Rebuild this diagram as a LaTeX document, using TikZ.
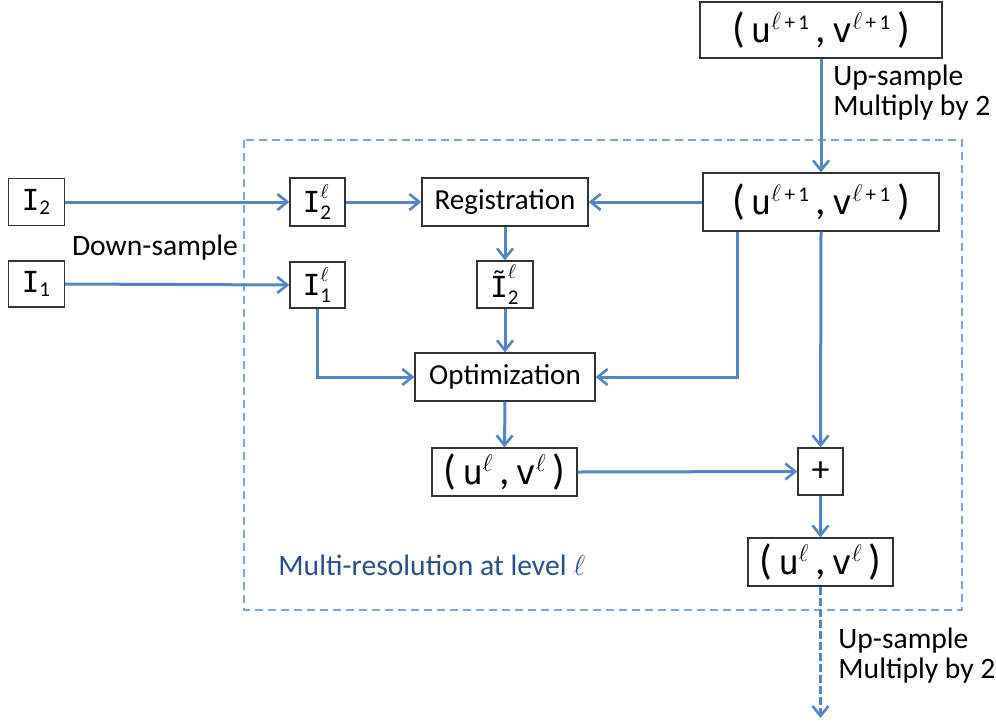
\documentclass[tikz,border=0pt]{standalone}
\usepackage{fontspec}
\setmainfont{Carlito}
\newfontfamily\monof{DejaVu Sans Mono}
\usetikzlibrary{arrows.meta}
\definecolor{arrblue}{RGB}{84,134,196}
\definecolor{dashblue}{RGB}{125,166,214}
\definecolor{lblblue}{RGB}{44,79,138}
\newcommand{\sst}[1]{\mbox{\fontsize{10.5}{10}\selectfont #1}}
\newcommand{\bp}[1]{{\fontsize{21}{21}\selectfont #1}}
\newcommand{\mI}{\mbox{\monof I}}
\newcommand{\mIt}{\mbox{\monof \~{I}}}
\newcommand{\uvone}{\bp{(}\,{\monof u}$^{\ell\sst{\,+\,1}}$\,\bp{,}\,{\monof v}$^{\ell\sst{\,+\,1}}$\,\bp{)}}
\newcommand{\uvl}{\bp{(}\,{\monof u}$^{\ell}$\,\bp{,}\,{\monof v}$^{\ell}$\,\bp{)}}
\begin{document}
\begin{tikzpicture}[x=0.5pt,y=-0.5pt,
  box/.style={draw=black!80,line width=0.6pt,inner sep=0pt,align=center,font=\fontsize{14.5}{16}\selectfont},
  uvbox/.style={box,font=\fontsize{17}{18}\selectfont},
  arr/.style={draw=arrblue,line width=1.5pt,-{Straight Barb[length=5pt,width=8pt,line width=1.3pt]}},
  lbl/.style={font=\fontsize{14.8}{14}\selectfont,align=left,inner sep=0pt}]
\useasboundingbox (0,0) rectangle (996,724);
% dashed frame
\draw[dashblue,line width=0.8pt,dash pattern=on 4pt off 2.5pt] (244,140) rectangle (962,610);
% nodes
\node[uvbox,minimum width=121pt,minimum height=28pt] (top) at (821,30) {\uvone};
\node[uvbox,minimum width=118pt,minimum height=29pt] (sec) at (821,202) {\uvone};
\node[box,minimum width=28pt,minimum height=23.5pt] (i2) at (36.5,202) {$\mI_{\sst{2}}$};
\node[box,minimum width=28pt,minimum height=23pt] (i1) at (36.5,284) {$\mI_{\sst{1}}$};
\node[box,minimum width=27.5pt,minimum height=24pt] (i2l) at (317.5,202) {$\mI^{\ell}_{\sst{2}}$};
\node[box,minimum width=27.5pt,minimum height=23pt] (i1l) at (317.5,285) {$\mI^{\ell}_{\sst{1}}$};
\node[box,minimum width=83pt,minimum height=24pt] (reg) at (505,202) {Registration};
\node[box,minimum width=28pt,minimum height=23.5pt] (til) at (505,284.5) {$\mIt^{\ell}_{\sst{2}}$};
\node[box,minimum width=90pt,minimum height=24pt] (opt) at (505,377) {Optimization};
\node[uvbox,minimum width=72.5pt,minimum height=24pt] (uvm) at (504.5,472) {\uvl};
\node[box,minimum width=22.5pt,minimum height=23.5pt,font=\fontsize{18}{18}\selectfont] (plus) at (820.5,471.5) {+};
\node[uvbox,minimum width=72.5pt,minimum height=24pt] (fin) at (820.5,562) {\uvl};
\coordinate (k1) at (737,0);
\coordinate (endd) at (820.5,718);
% labels
\node[lbl] (ds) at (155,248) {Down-sample};
\node[lbl,anchor=west] (us1) at (833,93) {Up-sample\\[1pt]Multiply by 2};
\node[lbl,anchor=west] (us2) at (838,656) {Up-sample\\[1pt]Multiply by 2};
\node[lbl,anchor=west,text=lblblue] (mr) at (278,565) {Multi-resolution at level $\ell$};
% connectors
\draw[arr] (top.south) -- (sec.north);
\draw[arr] (i2.east) -- (i2l.west);
\draw[arr] (i1.east) -- (i1l.west);
\draw[arr] (i2l.east) -- (reg.west);
\draw[arr] (sec.west) -- (reg.east);
\draw[arr] (reg.south) -- (til.north);
\draw[arr] (til.south) -- (opt.north);
\draw[arr] (i1l.south) |- (opt.west);
\draw[arr] (sec.south -| k1) |- (opt.east);
\draw[arr] (sec.south) -- (plus.north);
\draw[arr] (opt.south) -- (uvm.north);
\draw[arr] (uvm.east) -- (plus.west);
\draw[arr] (plus.south) -- (fin.north);
\draw[arr,dash pattern=on 4pt off 1.5pt] (fin.south) -- (endd);
\end{tikzpicture}
\end{document}
